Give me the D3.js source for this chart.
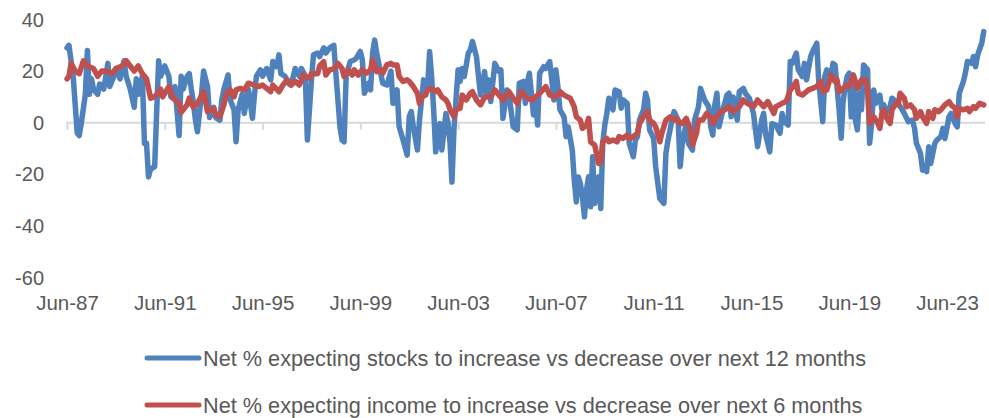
<!DOCTYPE html>
<html>
<head>
<meta charset="utf-8">
<script src="https://cdn.jsdelivr.net/npm/d3@7"></script>
<style>
  body { margin: 0; background: #fff; }
  svg text { font-family: "Liberation Sans", Arial, sans-serif; fill: #595959; }
</style>
</head>
<body>
<svg id="chart" width="989" height="418"></svg>
<script>
// monthly readings, Conference Board style survey (net % up minus down)
const stockDates = ["1987-06","1987-07","1987-09","1987-11","1987-12","1988-01","1988-03","1988-04","1988-05","1988-06","1988-07","1988-09","1988-10","1988-12","1989-01","1989-02","1989-03","1989-05","1989-06","1989-08","1989-10","1989-11","1990-01","1990-03","1990-04","1990-05","1990-07","1990-08","1990-09","1990-10","1990-11","1991-01","1991-02","1991-03","1991-04","1991-06","1991-08","1991-09","1991-11","1992-01","1992-02","1992-03","1992-05","1992-06","1992-07","1992-08","1992-09","1992-10","1992-12","1993-01","1993-03","1993-04","1993-06","1993-07","1993-09","1993-10","1993-11","1994-01","1994-02","1994-04","1994-05","1994-06","1994-08","1994-09","1994-11","1995-01","1995-02","1995-03","1995-05","1995-06","1995-08","1995-10","1995-11","1996-01","1996-02","1996-03","1996-05","1996-07","1996-08","1996-10","1996-12","1997-01","1997-03","1997-04","1997-06","1997-07","1997-09","1997-10","1997-12","1998-01","1998-03","1998-05","1998-06","1998-08","1998-09","1998-10","1998-11","1999-01","1999-03","1999-04","1999-06","1999-07","1999-08","1999-10","1999-11","1999-12","2000-01","2000-02","2000-04","2000-05","2000-07","2000-09","2000-10","2000-12","2001-01","2001-03","2001-05","2001-06","2001-07","2001-08","2001-10","2001-11","2002-01","2002-03","2002-04","2002-05","2002-06","2002-07","2002-09","2002-10","2002-12","2003-01","2003-02","2003-03","2003-04","2003-06","2003-07","2003-08","2003-09","2003-11","2003-12","2004-01","2004-03","2004-04","2004-05","2004-07","2004-08","2004-09","2004-10","2004-12","2005-02","2005-03","2005-04","2005-06","2005-07","2005-09","2005-11","2005-12","2006-02","2006-03","2006-04","2006-05","2006-07","2006-08","2006-09","2006-10","2006-12","2007-01","2007-03","2007-04","2007-05","2007-06","2007-07","2007-08","2007-10","2007-11","2007-12","2008-02","2008-03","2008-04","2008-05","2008-06","2008-07","2008-08","2008-09","2008-10","2008-11","2008-12","2009-01","2009-02","2009-03","2009-04","2009-05","2009-06","2009-07","2009-08","2009-10","2009-11","2010-01","2010-02","2010-03","2010-05","2010-06","2010-08","2010-09","2010-10","2010-11","2011-01","2011-02","2011-03","2011-04","2011-06","2011-07","2011-09","2011-11","2011-12","2012-01","2012-03","2012-04","2012-06","2012-07","2012-08","2012-10","2012-11","2013-01","2013-02","2013-04","2013-05","2013-07","2013-09","2013-10","2013-11","2013-12","2014-01","2014-02","2014-04","2014-06","2014-07","2014-08","2014-09","2014-11","2014-12","2015-02","2015-03","2015-05","2015-07","2015-08","2015-09","2015-11","2015-12","2016-01","2016-03","2016-04","2016-06","2016-08","2016-09","2016-10","2016-12","2017-01","2017-02","2017-04","2017-05","2017-07","2017-08","2017-09","2017-11","2017-12","2018-02","2018-03","2018-04","2018-05","2018-06","2018-07","2018-09","2018-10","2018-11","2019-01","2019-02","2019-03","2019-04","2019-05","2019-06","2019-07","2019-08","2019-09","2019-10","2019-11","2019-12","2020-01","2020-03","2020-04","2020-05","2020-06","2020-07","2020-09","2020-10","2020-11","2020-12","2021-02","2021-03","2021-04","2021-06","2021-08","2021-09","2021-11","2022-01","2022-02","2022-03","2022-05","2022-06","2022-07","2022-08","2022-09","2022-10","2022-12","2023-01","2023-03","2023-04","2023-05","2023-07","2023-08","2023-10","2023-11","2023-12","2024-02","2024-03","2024-04","2024-06","2024-07","2024-08","2024-09","2024-11","2024-12"];
const stockValues = [29,30,18,-4,-5,0,11,28,11,17,13,11,15,13,18,23,14,18,21,17,24,18,13,6,17,11,18,-8,-8,-21,-18,-17,5,24,18,22,18,10,14,-5,18,13,18,19,13,8,1,-3.5,11,20,14,2,6,2,1,9,13,18.5,9,5,-7.4,5,11,3.6,13,1.7,11,18,20.5,18,21,16.6,23.7,21.7,26.3,19,18,15,14.6,21,18,21,18,-6.7,16.6,26.3,27,25.6,29,27,29,30,19,-1.6,-6.7,-7.4,18,23.7,24.3,25,27.6,24.3,11.4,15.3,12.7,27,32,27,19,15.3,14.6,20,7.5,12.7,-1.6,-6.7,-12.6,2.3,4.3,-1.6,-10.6,1,16.6,12.7,27.6,17.9,5,-11.3,-0.3,-10.6,3.6,0,-8,-23,-2,20.5,16,21,17.9,27,28.2,31.5,25.6,17.9,10.7,19.8,10.7,16.6,8.2,23,19.8,20.5,1.7,12.7,10.7,-1.6,-2.8,15.3,16,7.5,15.3,19.2,3,8.8,-0.9,19.2,21.7,21,23.7,16.6,8.8,20.5,14,5,2.3,-5.4,-1.6,-10.6,-22,-30.7,-21,-23.6,-28.7,-36.5,-26,-21,-32.6,-13.2,-31.3,-22,-21,-33.3,-8,-0.9,3.6,9.5,5,12.7,12,5.6,8.8,7.5,-8,-13.2,-6.7,-5.4,1,5,11.4,8.8,-2.8,-6.1,-17,-29.4,-31.3,-11.9,-6.7,1,4.3,1,-17,-8,0,-8,-10.6,1,6.2,13.3,8.8,6.2,-1.6,-4.8,7,11.4,-1.6,5,10.7,11.4,2.3,10,1,12,13.3,11.4,9.5,3.6,-2.8,-9.3,1,3.6,-4.8,-11.3,-0.3,-0.9,-4.1,3.6,0.4,-0.9,23.7,23,27,20.5,17.9,23,16.6,25.6,27.6,30.8,16.6,8.2,0.4,17.9,20.5,17.9,23,22.4,5,-6,8,14,17.9,19.2,2.3,18.5,1,-2.8,11.4,5,22.4,20.5,-8,-0.3,12.7,7.5,10.7,5,6.9,3.6,6.2,9.5,8.8,7.5,5,3.6,0.4,1,-2.2,-8,-11.9,-18.4,-17,-19,-9.3,-15.8,-8,-6.7,-5.4,-2.2,-6.1,2.3,3.6,-0.3,-1.6,11.4,16,19.2,23.7,23,25.6,21.7,26.3,30.8,35.3];

const incomeDates = ["1987-06","1987-07","1987-08","1987-10","1987-12","1988-02","1988-04","1988-07","1988-09","1988-11","1989-01","1989-04","1989-06","1989-09","1989-11","1990-01","1990-03","1990-05","1990-07","1990-09","1990-11","1991-01","1991-04","1991-05","1991-08","1991-10","1992-01","1992-02","1992-05","1992-06","1992-08","1992-10","1992-11","1993-01","1993-03","1993-04","1993-06","1993-07","1993-09","1993-11","1993-12","1994-02","1994-04","1994-05","1994-07","1994-09","1994-11","1995-02","1995-04","1995-06","1995-08","1995-10","1995-11","1996-02","1996-04","1996-06","1996-08","1996-10","1996-12","1997-02","1997-05","1997-06","1997-09","1997-10","1997-12","1998-01","1998-03","1998-05","1998-07","1998-09","1998-10","1998-12","1999-02","1999-03","1999-05","1999-07","1999-09","1999-11","1999-12","2000-02","2000-04","2000-05","2000-07","2000-09","2000-10","2000-12","2001-01","2001-03","2001-05","2001-06","2001-08","2001-10","2001-11","2001-12","2002-02","2002-03","2002-05","2002-07","2002-08","2002-10","2002-12","2003-01","2003-02","2003-04","2003-05","2003-07","2003-08","2003-10","2003-12","2004-01","2004-03","2004-05","2004-07","2004-10","2004-12","2005-02","2005-04","2005-07","2005-09","2005-11","2006-01","2006-04","2006-06","2006-09","2006-10","2007-01","2007-03","2007-06","2007-08","2007-10","2008-01","2008-03","2008-04","2008-06","2008-07","2008-09","2008-10","2008-11","2009-01","2009-03","2009-04","2009-05","2009-07","2009-08","2009-10","2009-12","2010-01","2010-03","2010-05","2010-06","2010-08","2010-10","2010-11","2011-01","2011-03","2011-04","2011-06","2011-07","2011-09","2011-10","2011-12","2012-02","2012-04","2012-05","2012-07","2012-08","2012-10","2012-12","2013-01","2013-03","2013-04","2013-06","2013-08","2013-10","2013-11","2014-01","2014-03","2014-05","2014-07","2014-09","2014-12","2015-02","2015-04","2015-07","2015-09","2015-12","2016-02","2016-05","2016-06","2016-09","2016-11","2017-01","2017-03","2017-04","2017-05","2017-07","2017-10","2017-12","2018-02","2018-04","2018-05","2018-07","2018-09","2018-11","2018-12","2019-01","2019-03","2019-05","2019-06","2019-08","2019-09","2019-10","2019-12","2020-01","2020-02","2020-03","2020-04","2020-06","2020-08","2020-09","2020-10","2020-11","2020-12","2021-02","2021-03","2021-05","2021-06","2021-07","2021-09","2021-10","2021-12","2022-02","2022-03","2022-05","2022-06","2022-08","2022-09","2022-11","2022-12","2023-02","2023-03","2023-05","2023-07","2023-08","2023-10","2023-11","2023-12","2024-02","2024-04","2024-05","2024-07","2024-08","2024-10","2024-12"];
const incomeValues = [17,18,23,20,19,24,22,21,18,20,20,19,21,22,24,22,20,22,19,17,9.5,10,13,10,14,9.5,7.5,4,7,9.5,6,7.5,9,12,4.3,5,5.6,3,2.3,7,10.7,12.7,10,12.7,13.3,12.7,15.3,14.6,14,14.6,13.3,12,14.6,12,14.6,16.6,14.6,16,14.6,18.5,17.2,19,19,22,23.7,18.5,20.5,21,23,21,17.9,20.5,18.5,20.5,18.5,20.5,19.2,20.5,24.3,19.8,20.5,19.2,22.4,23,22.4,22.4,17.9,16,16.6,16,14,11.4,7.5,10,10.7,12.7,13.3,12,12.7,10,8.8,7.5,5,2.3,5,5.6,10.7,8.8,11.4,12,8.8,6.9,10,10,12.7,10.7,8.8,12,9.5,7.5,12,9.5,8.8,10.7,11.4,14,10.7,10,12,10.7,9.5,6.2,2.3,1,-2.2,-0.9,1.7,-7.4,-8.7,-15.8,-15.1,-7.4,-6.1,-7.4,-6.7,-7.4,-5.4,-6.1,-4.8,-6.1,-5.4,-4.1,-0.3,2.3,4.3,1,-0.3,-1.6,-7.4,-4.1,1,2.3,1,1.7,-0.3,-0.3,1.7,-2.8,-8.7,-4.1,1,1,3.6,2,-0.3,2.3,4.3,5,6.2,4.3,6.2,8.8,7.5,6.2,8.8,6.2,8.2,3.6,6.2,7.5,8.2,12.7,14.6,16,11.4,10.7,12.7,13.3,14,16,12,12.7,18.5,16,16.6,12,13.3,14.6,14,18.5,16,13.3,16.6,16,16.6,12.7,-0.3,2.3,-0.3,-2.2,3.6,5,2.3,-0.3,5,7.5,6.9,11.4,9.5,6.2,6.9,5,1.7,4.3,2.3,-0.3,4.3,1.7,5,4.3,5,6.9,8.2,6.9,5.6,2.3,5.6,5,5.6,4.3,6.2,5.6,7.5,6.9];

const seriesNames = [
  "Net % expecting stocks to increase vs decrease over next 12 months",
  "Net % expecting income to increase vs decrease over next 6 months"
];
const seriesColors = ["#4f81bd", "#c0504d"];
const yTicks = [40, 20, 0, -20, -40, -60];
const xTickYears = [1987, 1991, 1995, 1999, 2003, 2007, 2011, 2015, 2019, 2023];

const parse = d3.timeParse("%Y-%m");
const stocks = stockDates.map((d, i) => ({date: parse(d), value: stockValues[i]}));
const income = incomeDates.map((d, i) => ({date: parse(d), value: incomeValues[i]}));

const svg = d3.select("#chart");

const x = d3.scaleTime()
  .domain([new Date(1987, 5, 1), new Date(2023, 5, 1)])
  .range([67, 947]);
const y = d3.scaleLinear().domain([-60, 40]).range([277.5, 19.5]);

// y labels, no gridlines
svg.append("g")
  .selectAll("text")
  .data(yTicks)
  .enter().append("text")
    .attr("x", 44)
    .attr("y", d => y(d))
    .attr("dy", "0.35em")
    .attr("text-anchor", "end")
    .style("font-size", "20px")
    .text(d => d);

// x axis sits on zero
const xAxis = d3.axisBottom(x)
  .tickValues(xTickYears.map(yr => new Date(yr, 5, 1)))
  .tickFormat(d3.timeFormat("%b-%y"))
  .tickSize(7)
  .tickSizeOuter(0);

const gx = svg.append("g")
  .attr("transform", "translate(0," + y(0) + ")")
  .call(xAxis);
gx.select(".domain").attr("d", "M66,0H985").attr("stroke", "#d9d9d9").attr("stroke-width", 2);
gx.selectAll(".tick line").attr("stroke", "#d9d9d9").attr("stroke-width", 2);
gx.selectAll(".tick text")
  .attr("y", y(-60) - y(0) + 25)
  .attr("dy", "0.35em")
  .attr("fill", "#595959")
  .style("font-size", "20.5px")
  .style("font-family", "'Liberation Sans', Arial, sans-serif");

const line = d3.line()
  .x(d => x(d.date))
  .y(d => y(d.value));

[stocks, income].forEach((data, i) => {
  svg.append("path")
    .datum(data)
    .attr("d", line)
    .attr("fill", "none")
    .attr("stroke", seriesColors[i])
    .attr("stroke-width", 5.5)
    .attr("stroke-linejoin", "round")
    .attr("stroke-linecap", "round");
});

// legend
const legend = svg.append("g");
seriesNames.forEach((name, i) => {
  const ly = 358 + i * 47;
  legend.append("line")
    .attr("x1", 147).attr("x2", 199)
    .attr("y1", ly).attr("y2", ly)
    .attr("stroke", seriesColors[i])
    .attr("stroke-width", 5)
    .attr("stroke-linecap", "round");
  legend.append("text")
    .attr("x", 203)
    .attr("y", ly)
    .attr("dy", "0.35em")
    .style("font-size", "21.7px")
    .text(name);
});
</script>
</body>
</html>
